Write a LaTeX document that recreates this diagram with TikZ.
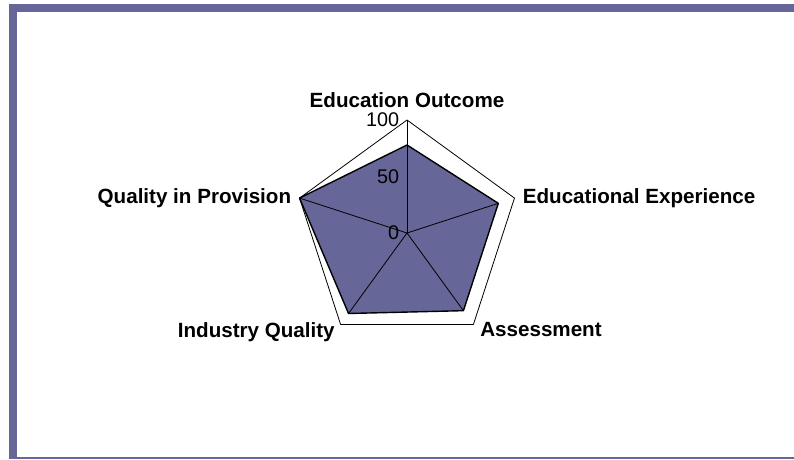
\documentclass[tikz,border=0pt]{standalone}
\usepackage{fontspec}
\setmainfont{Liberation Sans}
\usepackage{tikz}
\usetikzlibrary{positioning}
\definecolor{chartblue}{HTML}{666699}

\begin{document}
\begin{tikzpicture}[
x=1pt,y=1pt,
axislabel/.style={font=\bfseries\fontsize{20.6}{22}\selectfont, inner sep=0pt},
ticklabel/.style={font=\fontsize{19.8}{21}\selectfont, inner sep=0pt},
line width=0.8pt]
    \useasboundingbox (0,0) rectangle (794,459);

    % Draw frame
    \fill[chartblue] (9,0) rectangle (17,455);
    \fill[chartblue] (9,447) rectangle (794,455);
    \fill[chartblue] (9,0.4) rectangle (794,2.3);

    % Outer pentagon and data points
    \coordinate (O) at (407,226);
    \path (O) ++(90:113) coordinate (EO)
          (O) ++(18:113) coordinate (EE)
          (O) ++(-54:113) coordinate (AS)
          (O) ++(-126:113) coordinate (IQ)
          (O) ++(162:113) coordinate (QP)
          (O) ++(90:56.5) coordinate (half);
    \path (O) ++(90:88) coordinate (EOd)
          (O) ++(18:96) coordinate (EEd)
          (O) ++(-54:96) coordinate (ASd)
          (O) ++(-126:99.5) coordinate (IQd)
          (O) ++(162:113) coordinate (QPd);

    \draw (EO) -- (EE) -- (AS) -- (IQ) -- (QP) -- cycle;
    \draw[fill=chartblue, line width=1.4pt, line join=round]
        (EOd) -- (EEd) -- (ASd) -- (IQd) -- (QPd) -- cycle;

    % Spokes
    \draw (O) -- (EO);
    \draw (O) -- (EEd);
    \draw (O) -- (ASd);
    \draw (O) -- (IQd);
    \draw (O) -- (QPd);

    % Scale
    \node[ticklabel, left=7.5pt of EO] (t100) {100};
    \node[ticklabel, left=7.5pt of half] (t50) {50};
    \node[ticklabel, left=7.5pt of O] (t0) {0};

    % Category names
    \node[axislabel, above=11.5pt of EO] (eo) {Education Outcome};
    \node[axislabel, right=8pt of EE] (ee) {Educational Experience};
    \node[axislabel, below right=-2.5pt and 6.5pt of AS] (as) {Assessment};
    \node[axislabel, below left=-2.5pt and 5.5pt of IQ] (iq) {Industry Quality};
    \node[axislabel, left=8pt of QP] (qp) {Quality in Provision};
\end{tikzpicture}
\end{document}
